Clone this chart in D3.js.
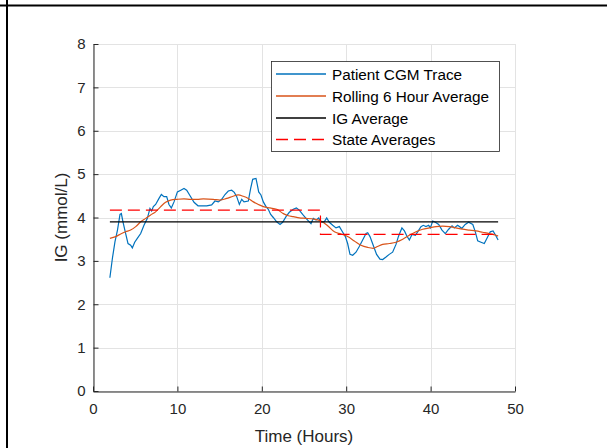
<!DOCTYPE html>
<html>
<head>
<meta charset="utf-8">
<script src="https://cdn.jsdelivr.net/npm/d3@7"></script>
<style>
    body { margin: 0; background: #fff; }
    svg { display: block; font-family: "Liberation Sans", Arial, sans-serif; }
</style>
</head>
<body>
<svg id="chart" width="607" height="448"></svg>
<script>
// CGM trace (hours, mmol/L)
const cgmHours = [2.0, 2.3, 2.6, 2.9, 3.2, 3.36, 3.55, 3.87, 4.15, 4.46, 4.66, 4.94, 5.25, 5.65, 6.04, 6.44, 6.75, 6.95, 7.15, 7.42,
    7.82, 8.1, 8.41, 8.73, 9.0, 9.28, 9.6, 10.0, 10.4, 10.78, 11.1, 11.5, 11.97, 12.44, 12.95, 13.47, 14.06, 14.45, 14.85, 15.25,
    15.64, 16.03, 16.43, 16.74, 17.03, 17.34, 17.62, 17.89, 18.4, 18.68, 18.92, 19.31, 19.47, 19.63, 19.9, 20.18, 20.5, 20.77, 21.05, 21.36,
    21.76, 22.16, 22.47, 22.87, 23.26, 23.73, 24.1, 24.44, 24.84, 25.24, 25.63, 25.83, 26.1, 26.42, 26.74, 27.01, 27.4, 27.69, 28.0, 28.4,
    28.79, 29.19, 29.5, 29.9, 30.17, 30.45, 30.77, 31.16, 31.55, 31.95, 32.35, 32.55, 32.82, 33.2, 33.6, 34.0, 34.32, 34.72, 35.1, 35.5,
    35.9, 36.2, 36.6, 36.9, 37.17, 37.48, 37.8, 38.2, 38.6, 38.86, 39.13, 39.45, 39.77, 39.97, 40.25, 40.56, 40.96, 41.35, 41.74, 42.14,
    42.54, 42.8, 43.2, 43.7, 44.1, 44.5, 45.0, 45.3, 45.58, 45.97, 46.36, 46.68, 47.07, 47.4, 47.7, 48.0];
const cgmValues = [2.61, 3.06, 3.44, 3.71, 4.07, 4.09, 3.90, 3.63, 3.40, 3.36, 3.30, 3.43, 3.52, 3.63, 3.82, 3.98, 4.21, 4.15, 4.25, 4.30,
    4.44, 4.53, 4.48, 4.48, 4.30, 4.22, 4.36, 4.59, 4.63, 4.67, 4.63, 4.50, 4.35, 4.27, 4.27, 4.27, 4.29, 4.38, 4.36, 4.42,
    4.53, 4.61, 4.63, 4.58, 4.48, 4.30, 4.42, 4.36, 4.38, 4.67, 4.88, 4.90, 4.75, 4.59, 4.52, 4.36, 4.25, 4.19, 4.07, 4.00,
    3.90, 3.84, 3.89, 4.02, 4.12, 4.19, 4.22, 4.17, 4.07, 3.98, 3.90, 3.86, 3.98, 3.94, 3.99, 3.90, 3.90, 3.99, 3.89, 3.82,
    3.76, 3.79, 3.69, 3.56, 3.40, 3.15, 3.13, 3.20, 3.33, 3.48, 3.63, 3.65, 3.56, 3.36, 3.15, 3.04, 3.03, 3.09, 3.15, 3.20,
    3.38, 3.57, 3.76, 3.69, 3.58, 3.48, 3.61, 3.59, 3.71, 3.79, 3.82, 3.79, 3.82, 3.76, 3.92, 3.89, 3.84, 3.71, 3.63, 3.73,
    3.81, 3.76, 3.82, 3.75, 3.84, 3.89, 3.84, 3.67, 3.46, 3.43, 3.40, 3.52, 3.67, 3.69, 3.59, 3.48];

// rolling 6 hour average
const rollHours = [2.0, 2.69, 3.28, 3.87, 4.46, 5.06, 5.65, 6.24, 6.83, 7.42, 8.02, 8.6, 9.2, 10.0, 10.78, 11.57, 12.36, 13.07, 14.25, 15.05,
    15.84, 16.6, 17.2, 17.8, 18.4, 19.0, 19.6, 20.18, 20.97, 21.76, 22.55, 23.14, 23.73, 24.44, 25.24, 26.2, 27.0, 27.8, 28.6, 29.38,
    30.17, 30.96, 31.75, 32.55, 33.2, 33.7, 34.32, 35.1, 35.9, 36.7, 37.48, 38.27, 39.06, 39.85, 40.64, 41.43, 42.2, 43.0, 43.8, 44.6,
    45.38, 46.17, 46.96, 47.75, 48.0];
const rollValues = [3.52, 3.56, 3.62, 3.67, 3.71, 3.79, 3.90, 3.98, 4.06, 4.13, 4.25, 4.35, 4.40, 4.42, 4.43, 4.42, 4.42, 4.43, 4.42, 4.40,
    4.44, 4.49, 4.52, 4.49, 4.44, 4.36, 4.30, 4.25, 4.22, 4.19, 4.09, 4.04, 4.02, 3.99, 3.98, 3.96, 3.92, 3.81, 3.67, 3.62,
    3.56, 3.46, 3.36, 3.31, 3.29, 3.33, 3.38, 3.40, 3.43, 3.50, 3.59, 3.67, 3.73, 3.76, 3.79, 3.80, 3.79, 3.76, 3.73, 3.71,
    3.69, 3.66, 3.63, 3.59, 3.57];

const igAverage = 3.90;
const stateBreaks = [2, 26.95, 48];
const stateValues = [4.17, 3.61];

const xTicks = [0, 10, 20, 30, 40, 50];
const yTicks = [0, 1, 2, 3, 4, 5, 6, 7, 8];

const legendNames = ['Patient CGM Trace', 'Rolling 6 Hour Average', 'IG Average', 'State Averages'];

const colors = {
    cgm: '#0072BD',
    roll: '#D95319',
    avg: '#000000',
    state: '#FF0000',
};

const svg = d3.select('#chart');

// outer frame lines
svg.append('line').attr('x1', 0).attr('x2', 607).attr('y1', 5.5).attr('y2', 5.5)
    .attr('stroke', '#000').attr('stroke-width', 2);
svg.append('line').attr('x1', 7).attr('x2', 7).attr('y1', 0).attr('y2', 448)
    .attr('stroke', '#000').attr('stroke-width', 2);

const x = d3.scaleLinear().domain([0, 50]).range([93, 515]);
const y = d3.scaleLinear().domain([0, 8]).range([391, 44]);

// grid
const grid = svg.append('g').attr('stroke', '#e3e3e3').attr('stroke-width', 1);
xTicks.forEach(t => {
    grid.append('line')
        .attr('x1', Math.round(x(t)) + 0.5).attr('x2', Math.round(x(t)) + 0.5)
        .attr('y1', y(0)).attr('y2', y(8));
});
yTicks.forEach(t => {
    grid.append('line')
        .attr('x1', x(0)).attr('x2', x(50))
        .attr('y1', Math.round(y(t)) + 0.5).attr('y2', Math.round(y(t)) + 0.5);
});

// axes
const xAxis = svg.append('g')
    .attr('transform', 'translate(0,' + (Math.round(y(0)) + 0.5) + ')')
    .call(d3.axisBottom(x).tickValues(xTicks).tickSize(-5).tickPadding(12).tickSizeOuter(0));
const yAxis = svg.append('g')
    .attr('transform', 'translate(' + (Math.round(x(0)) + 0.5) + ',0)')
    .call(d3.axisLeft(y).tickValues(yTicks).tickSize(-5).tickPadding(8).tickSizeOuter(0));

[xAxis, yAxis].forEach(a => {
    a.selectAll('path, line').attr('stroke', '#262626');
    a.selectAll('text').attr('fill', '#262626').attr('font-size', 15)
        .attr('font-family', '"Liberation Sans", Arial, sans-serif');
});

svg.append('text')
    .attr('x', x(25)).attr('y', 442)
    .attr('text-anchor', 'middle')
    .attr('font-size', 17)
    .attr('fill', '#262626')
    .text('Time (Hours)');

svg.append('text')
    .attr('transform', 'translate(67,' + (y(4)) + ') rotate(-90)')
    .attr('text-anchor', 'middle')
    .attr('font-size', 17)
    .attr('fill', '#262626')
    .text('IG (mmol/L)');

// series
const cgmData = cgmHours.map((h, i) => [h, cgmValues[i]]);
const rollData = rollHours.map((h, i) => [h, rollValues[i]]);
const line = d3.line().x(d => x(d[0])).y(d => y(d[1]));
const smooth = d3.line().x(d => x(d[0])).y(d => y(d[1])).curve(d3.curveMonotoneX);

svg.append('path')
    .attr('d', line(cgmData))
    .attr('fill', 'none')
    .attr('stroke', colors.cgm)
    .attr('stroke-width', 1.2);

svg.append('path')
    .attr('d', smooth(rollData))
    .attr('fill', 'none')
    .attr('stroke', colors.roll)
    .attr('stroke-width', 1.2);

svg.append('path')
    .attr('d', line([[cgmHours[0], igAverage], [cgmHours[cgmHours.length - 1], igAverage]]))
    .attr('stroke', colors.avg)
    .attr('stroke-width', 1.2);

let statePts = [];
stateValues.forEach((v, i) => {
    statePts.push([stateBreaks[i], v]);
    statePts.push([stateBreaks[i + 1], v]);
});
svg.append('path')
    .attr('d', line(statePts))
    .attr('fill', 'none')
    .attr('stroke', colors.state)
    .attr('stroke-width', 1.2)
    .attr('stroke-dasharray', '12,6');

// legend
const legend = svg.append('g').attr('transform', 'translate(271,61)');
legend.append('rect')
    .attr('x', 0.5).attr('y', 0.5)
    .attr('width', 228).attr('height', 90)
    .attr('fill', '#fff')
    .attr('stroke', '#262626')
    .attr('stroke-width', 0.8);

const legendColors = [colors.cgm, colors.roll, colors.avg, colors.state];
const legendY = [13, 35, 57, 78.5];
legendNames.forEach((name, i) => {
    legend.append('path')
        .attr('d', 'M5,' + legendY[i] + 'H55')
        .attr('fill', 'none')
        .attr('stroke', legendColors[i])
        .attr('stroke-width', 1.4)
        .attr('stroke-dasharray', i === 3 ? '12,6' : null);
    legend.append('text')
        .attr('x', 61).attr('y', legendY[i])
        .attr('dy', '0.36em')
        .attr('font-size', 15.3)
        .attr('fill', '#000')
        .text(name);
});
</script>
</body>
</html>
